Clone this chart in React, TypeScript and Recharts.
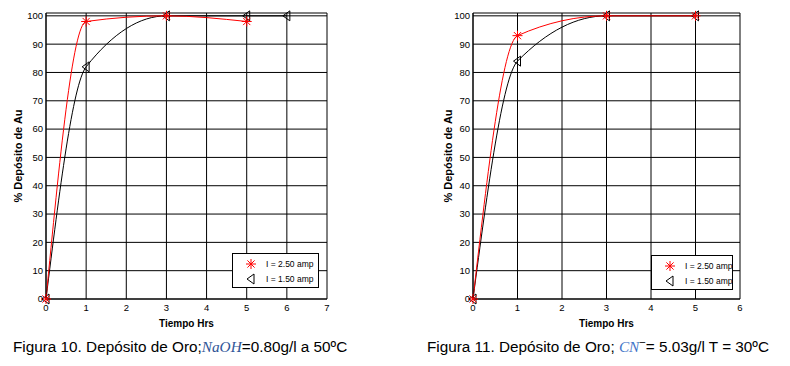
import {
  LineChart,
  Line,
  XAxis,
  YAxis,
  CartesianGrid,
  Legend,
} from "recharts";

// Figura 10 (NaOH = 0.80 g/l, 50ºC)
const fig10HighTime = [0, 1, 3, 5];
const fig10HighPct = [0, 98, 100, 98];
const fig10LowTime = [0, 1, 3, 5, 6];
const fig10LowPct = [0, 82, 100, 100, 100];

// Figura 11 (CN- = 5.03 g/l, 30ºC)
const fig11HighTime = [0, 1, 3, 5];
const fig11HighPct = [0, 93, 100, 100];
const fig11LowTime = [0, 1, 3, 5];
const fig11LowPct = [0, 84, 100, 100];

const fig10XTicks = [0, 1, 2, 3, 4, 5, 6, 7];
const fig11XTicks = [0, 1, 2, 3, 4, 5, 6];
const pctTicks = [0, 10, 20, 30, 40, 50, 60, 70, 80, 90, 100];

const HIGH_LABEL = "I = 2.50 amp";
const LOW_LABEL = "I = 1.50 amp";
const X_LABEL = "Tiempo Hrs";
const Y_LABEL = "% Depósito de Au";

const NARROW =
  '"Liberation Sans Narrow", "Arial Narrow", "Liberation Sans", Arial, sans-serif';
const SANS = '"Liberation Sans", Arial, sans-serif';
const MATH = '"Liberation Serif", "DejaVu Serif", serif';

const toPoints = (time: number[], pct: number[]) =>
  time.map((t, i) => ({ t, pct: pct[i] }));

const Asterisk = ({ cx, cy, r = 5 }: { cx: number; cy: number; r?: number }) => {
  const d = r * 0.72;
  return (
    <g stroke="#ff0000" strokeWidth={1}>
      <line x1={cx} y1={cy - r} x2={cx} y2={cy + r} />
      <line x1={cx - r} y1={cy} x2={cx + r} y2={cy} />
      <line x1={cx - d} y1={cy - d} x2={cx + d} y2={cy + d} />
      <line x1={cx - d} y1={cy + d} x2={cx + d} y2={cy - d} />
    </g>
  );
};

const LeftTriangle = ({ cx, cy }: { cx: number; cy: number }) => (
  <polygon
    points={`${cx - 4},${cy} ${cx + 3},${cy - 5} ${cx + 3},${cy + 5}`}
    fill="none"
    stroke="#000"
    strokeWidth={1}
  />
);

const LegendBox = ({ width, payload }: { width: number; payload?: any[] }) => {
  const items = [...(payload ?? [])].reverse();
  return (
    <div
      style={{
        width,
        height: 35,
        border: "1px solid #000",
        background: "#fff",
        boxSizing: "border-box",
        fontFamily: NARROW,
        fontSize: 8.5,
        color: "#000",
        paddingTop: 2,
        whiteSpace: "nowrap",
      }}
    >
      {items.map((item) => (
        <div
          key={item.value}
          style={{ display: "flex", alignItems: "center", height: 15 }}
        >
          <svg width={30} height={14} style={{ flex: "none" }}>
            {item.color === "#ff0000" ? (
              <Asterisk cx={18} cy={7} />
            ) : (
              <LeftTriangle cx={18} cy={7} />
            )}
          </svg>
          <span style={{ marginLeft: 3 }}>{item.value}</span>
        </div>
      ))}
    </div>
  );
};

interface FigureProps {
  high: { t: number; pct: number }[];
  low: { t: number; pct: number }[];
  xTicks: number[];
  width: number;
  yAxisWidth: number;
  marginRight: number;
  yLabelOffset: number;
  legendLeft: number;
  legendTop: number;
  legendWidth: number;
}

const Figure = ({
  high,
  low,
  xTicks,
  width,
  yAxisWidth,
  marginRight,
  yLabelOffset,
  legendLeft,
  legendTop,
  legendWidth,
}: FigureProps) => {
  const xMax = xTicks[xTicks.length - 1];
  const tick = { fontSize: 9.5, fill: "#000", fontFamily: NARROW };
  return (
    <LineChart
      width={width}
      height={330}
      margin={{ top: 13, right: marginRight, left: 0, bottom: 0 }}
    >
      <CartesianGrid stroke="#000" strokeWidth={1} />
      <XAxis
        dataKey="t"
        type="number"
        domain={[0, xMax]}
        ticks={xTicks}
        height={31}
        tick={tick}
        tickSize={0}
        tickMargin={5}
        axisLine={{ stroke: "#000" }}
        label={{
          value: X_LABEL,
          position: "insideBottom",
          offset: 3,
          fontSize: 10,
          fontWeight: "bold",
          fill: "#000",
          fontFamily: NARROW,
        }}
      />
      <XAxis
        xAxisId="top"
        orientation="top"
        type="number"
        domain={[0, xMax]}
        height={0}
        tick={false}
        tickLine={false}
        axisLine={{ stroke: "#000" }}
      />
      <YAxis
        type="number"
        domain={[0, 101]}
        ticks={pctTicks}
        width={yAxisWidth}
        tick={tick}
        tickSize={0}
        tickMargin={3}
        axisLine={{ stroke: "#000" }}
        label={{
          value: Y_LABEL,
          angle: -90,
          position: "insideLeft",
          offset: yLabelOffset,
          textAnchor: "middle",
          fontSize: 11,
          fontWeight: "bold",
          fill: "#000",
          fontFamily: NARROW,
        }}
      />
      <YAxis
        yAxisId="right"
        orientation="right"
        type="number"
        domain={[0, 101]}
        width={0}
        tick={false}
        tickLine={false}
        axisLine={{ stroke: "#000" }}
      />
      <Legend
        layout="vertical"
        align="center"
        verticalAlign="middle"
        wrapperStyle={{ left: legendLeft, top: legendTop, width: legendWidth }}
        content={(props: any) => (
          <LegendBox width={legendWidth} payload={props.payload} />
        )}
      />
      <Line
        data={low}
        dataKey="pct"
        name={LOW_LABEL}
        type="monotone"
        stroke="#000000"
        strokeWidth={1}
        isAnimationActive={false}
        dot={(p: any) => (
          <LeftTriangle key={`low-${p.index}`} cx={p.cx} cy={p.cy} />
        )}
        activeDot={false}
      />
      <Line
        data={high}
        dataKey="pct"
        name={HIGH_LABEL}
        type="monotone"
        stroke="#ff0000"
        strokeWidth={1}
        isAnimationActive={false}
        dot={(p: any) => (
          <Asterisk key={`high-${p.index}`} cx={p.cx} cy={p.cy} />
        )}
        activeDot={false}
      />
    </LineChart>
  );
};

const captionStyle = {
  position: "absolute" as const,
  top: 338,
  fontFamily: SANS,
  fontSize: 15.3,
  color: "#000",
  whiteSpace: "nowrap" as const,
  lineHeight: "18px",
};

export default function App() {
  return (
    <div
      style={{
        position: "absolute",
        left: 0,
        top: 0,
        width: 790,
        height: 366,
        background: "#fff",
        overflow: "hidden",
      }}
    >
      <div style={{ position: "absolute", left: 0, top: 0 }}>
        <Figure
          high={toPoints(fig10HighTime, fig10HighPct)}
          low={toPoints(fig10LowTime, fig10LowPct)}
          xTicks={fig10XTicks}
          width={340}
          yAxisWidth={46}
          marginRight={13}
          yLabelOffset={18}
          legendLeft={232}
          legendTop={253}
          legendWidth={87}
        />
      </div>
      <div style={{ position: "absolute", left: 420, top: 0 }}>
        <Figure
          high={toPoints(fig11HighTime, fig11HighPct)}
          low={toPoints(fig11LowTime, fig11LowPct)}
          xTicks={fig11XTicks}
          width={330}
          yAxisWidth={53}
          marginRight={10}
          yLabelOffset={28}
          legendLeft={231}
          legendTop={255}
          legendWidth={82}
        />
      </div>
      <div style={{ ...captionStyle, left: 13 }}>
        Figura 10. Depósito de Oro;
        <span style={{ fontFamily: MATH, fontStyle: "italic", color: "#2f5597" }}>
          NaOH
        </span>
        =0.80g/l a 50ºC
      </div>
      <div style={{ ...captionStyle, left: 427 }}>
        Figura 11. Depósito de Oro;{" "}
        <span style={{ fontFamily: MATH, fontStyle: "italic", color: "#3f74c8" }}>
          CN
        </span>
        <sup style={{ fontSize: 11, lineHeight: 0 }}>−</sup>= 5.03g/l T = 30ºC
      </div>
    </div>
  );
}
